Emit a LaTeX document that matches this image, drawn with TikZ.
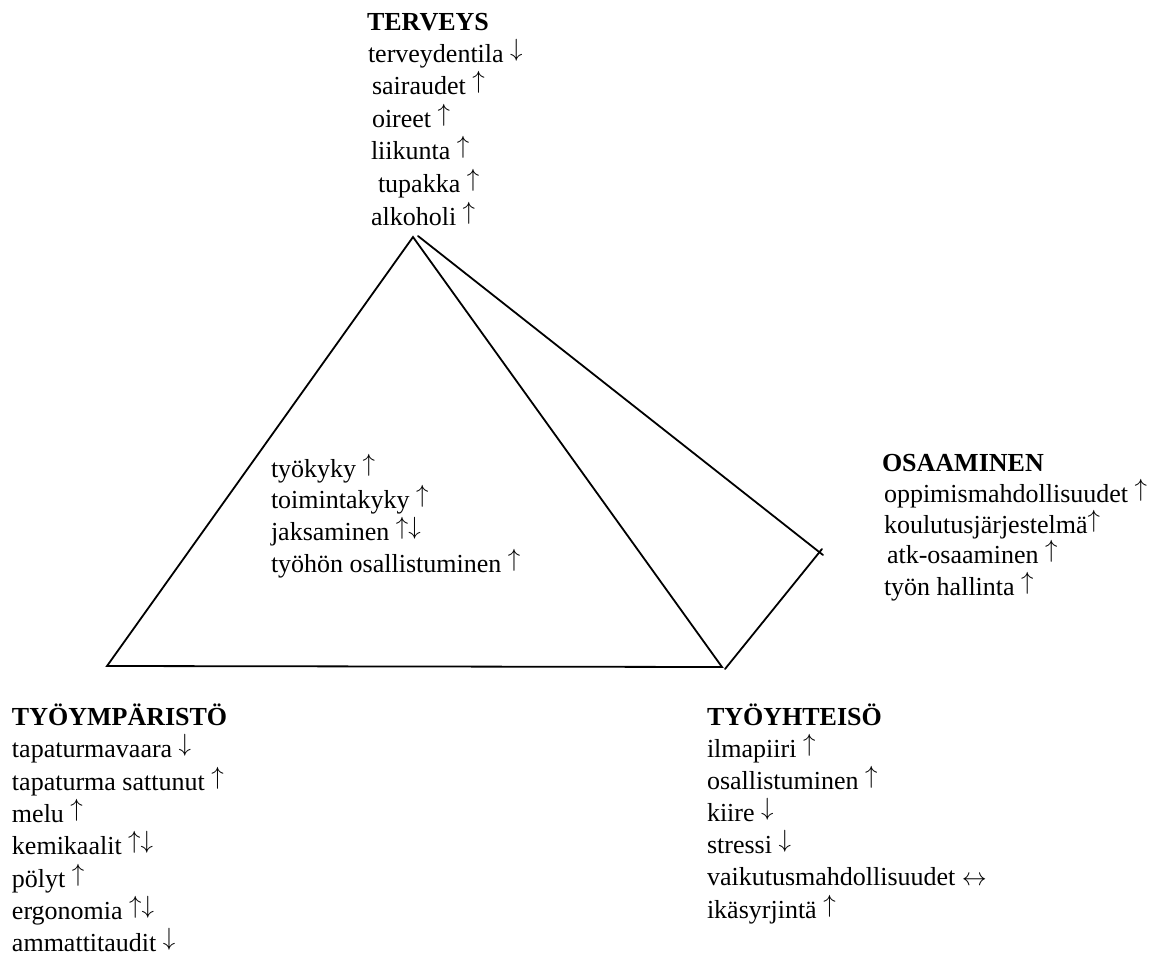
\documentclass[tikz,border=0pt]{standalone}
\usepackage{fontspec}
\setmainfont{Liberation Serif}
\newcommand\ua{\smash{\raisebox{0.21em}{$\uparrow$}}}
\newcommand\da{\smash{\raisebox{0.21em}{$\downarrow$}}}
\newcommand\lra{\smash{$\leftrightarrow$}}
\begin{document}
\begin{tikzpicture}[x=1pt,y=-1pt,
  txt/.style={anchor=base west,inner sep=0pt,outer sep=0pt,font=\fontsize{26}{32}\selectfont},
  head/.style={txt,font=\fontsize{26}{32}\selectfont\bfseries},
  edge/.style={line width=1.8pt,line cap=round,line join=miter}]
\useasboundingbox (0,0) rectangle (1163,956);
% geometry
\coordinate (apex) at (413,237);
\coordinate (apexb) at (418,236);
\coordinate (bl) at (107,666);
\coordinate (br) at (722,667);
\coordinate (rpa) at (823,555);
\coordinate (rpb) at (822,549);
\coordinate (rb) at (725,669);
\draw[edge] (bl) -- (apex) -- (br) -- cycle;
\draw[edge] (apexb) -- (rpa);
\draw[edge] (rb) -- (rpb);
% TERVEYS
\node[head] (t0) at (367,30) {TERVEYS};
\node[txt] (t1) at (368,62) {terveydentila \da};
\node[txt] (t2) at (372,94) {sairaudet \ua};
\node[txt] (t3) at (372,127) {oireet \ua};
\node[txt] (t4) at (371,159) {liikunta \ua};
\node[txt] (t5) at (378,192) {tupakka \ua};
\node[txt] (t6) at (371,225) {alkoholi \ua};
% centre
\node[txt] (c1) at (271,477) {työkyky \ua};
\node[txt] (c2) at (271,508) {toimintakyky \ua};
\node[txt] (c3) at (271,540) {jaksaminen \ua\da};
\node[txt] (c4) at (271,572) {työhön osallistuminen \ua};
% OSAAMINEN
\node[head] (o0) at (882,471) {OSAAMINEN};
\node[txt] (o1) at (884,502) {oppimismahdollisuudet \ua};
\node[txt] (o2) at (884,533) {koulutusjärjestelmä\ua};
\node[txt] (o3) at (887,563) {atk-osaaminen \ua};
\node[txt] (o4) at (884,595) {työn hallinta \ua};
% TYÖYMPÄRISTÖ
\node[head] (y0) at (12,725) {TYÖYMPÄRISTÖ};
\node[txt] (y1) at (12,757) {tapaturmavaara \da};
\node[txt] (y2) at (12,790) {tapaturma sattunut \ua};
\node[txt] (y3) at (12,822) {melu \ua};
\node[txt] (y4) at (12,854) {kemikaalit \ua\da};
\node[txt] (y5) at (12,887) {pölyt \ua};
\node[txt] (y6) at (12,919) {ergonomia \ua\da};
\node[txt] (y7) at (12,951) {ammattitaudit \da};
% TYÖYHTEISÖ
\node[head] (h0) at (707,725) {TYÖYHTEISÖ};
\node[txt] (h1) at (707,757) {ilmapiiri \ua};
\node[txt] (h2) at (707,789) {osallistuminen \ua};
\node[txt] (h3) at (707,821) {kiire \da};
\node[txt] (h4) at (707,853) {stressi \da};
\node[txt] (h5) at (707,885) {vaikutusmahdollisuudet \lra};
\node[txt] (h6) at (707,918) {ikäsyrjintä \ua};
\end{tikzpicture}
\end{document}
